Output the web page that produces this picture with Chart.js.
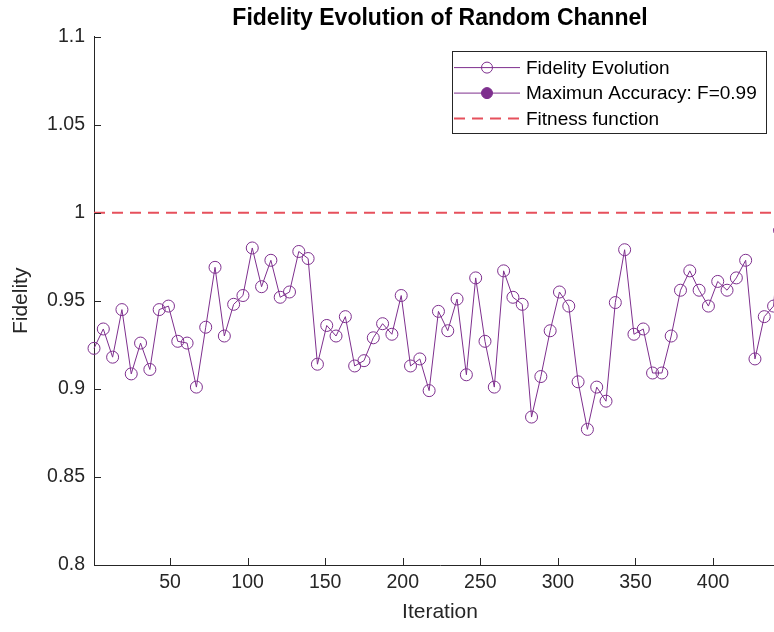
<!DOCTYPE html>
<html>
<head>
<meta charset="utf-8">
<script src="https://cdn.jsdelivr.net/npm/chart.js@4/dist/chart.umd.min.js"></script>
<style>
html,body{margin:0;padding:0;background:#ffffff;overflow:hidden;width:774px;height:632px}
#wrap{position:absolute;left:0;top:0;width:800px;height:632px}
</style>
</head>
<body>
<div id="wrap"><canvas id="c" width="800" height="632"></canvas></div>
<script>
// ---- data ----
const iterations = [1,7,13,19,25,31,37,43,49,55,61,67,73,79,85,91,97,103,109,115,121,127,133,139,145,151,157,163,169,175,181,187,193,199,205,211,217,223,229,235,241,247,253,259,265,271,277,283,289,295,301,307,313,319,325,331,337,343,349,355,361,367,373,379,385,391,397,403,409,415,421,427,433,439,443];
const fidelity = [0.923,0.934,0.918,0.945,0.9085,0.926,0.911,0.945,0.947,0.927,
                  0.926,0.901,0.935,0.969,0.930,0.948,0.953,0.980,0.958,0.973,
                  0.952,0.955,0.978,0.974,0.914,0.936,0.930,0.941,0.913,0.916,
                  0.929,0.937,0.931,0.953,0.913,0.917,0.899,0.944,0.933,0.951,
                  0.908,0.963,0.927,0.901,0.967,0.952,0.948,0.884,0.907,0.933,
                  0.955,0.947,0.904,0.877,0.901,0.893,0.949,0.979,0.931,0.934,
                  0.909,0.909,0.930,0.956,0.967,0.956,0.947,0.961,0.956,0.963,
                  0.973,0.917,0.941,0.947,0.990];
const maxIteration = [443];
const maxFidelity = [0.99];
const fitnessX = [1, 447];
const fitnessY = [1, 1];
const xTickValues = [50,100,150,200,250,300,350,400];
const yTickValues = [0.8,0.85,0.9,0.95,1,1.05,1.1];
const yTickLabels = ['0.8','0.85','0.9','0.95','1','1.05','1.1'];
const seriesLabels = ['Fidelity Evolution','Maximun Accuracy: F=0.99','Fitness function'];
const chartTitle = 'Fidelity Evolution of Random Channel';
const xTitle = 'Iteration';
const yTitle = 'Fidelity';

// ---- styles ----
const FONT = "'Liberation Sans', Arial, Helvetica, sans-serif";
const PURPLE = '#7E2F8E';
const RED = '#E6505C';
const AXIS = '#262626';

const innerTicks = {
  id: 'innerTicks',
  afterDraw(chart) {
    const {ctx, chartArea: a, scales: {x, y}} = chart;
    ctx.save();
    ctx.strokeStyle = AXIS;
    ctx.lineWidth = 1;
    ctx.beginPath();
    x.ticks.forEach(t => {
      const px = Math.round(x.getPixelForValue(t.value)) + 0.5;
      ctx.moveTo(px, a.bottom); ctx.lineTo(px, a.bottom - 7);
    });
    y.ticks.forEach(t => {
      const py = Math.round(y.getPixelForValue(t.value)) + 0.5;
      ctx.moveTo(a.left, py); ctx.lineTo(a.left + 7, py);
    });
    ctx.stroke();
    ctx.restore();
  }
};

const boxLegend = {
  id: 'boxLegend',
  afterDraw(chart, args, opts) {
    const {ctx, chartArea: a} = chart;
    const w = opts.width, h = opts.height;
    const left = a.right - opts.right - w;
    const top = a.top + opts.top;
    ctx.save();
    ctx.fillStyle = '#ffffff';
    ctx.fillRect(left, top, w, h);
    ctx.strokeStyle = AXIS;
    ctx.lineWidth = 1;
    ctx.strokeRect(Math.round(left) + 0.5, Math.round(top) + 0.5, w, h);
    chart.data.datasets.forEach((ds, i) => {
      const cy = top + opts.firstRow + i * opts.rowGap;
      const x0 = left + opts.lineStart, x1 = left + opts.lineEnd;
      ctx.save();
      ctx.strokeStyle = ds.borderColor;
      ctx.lineWidth = ds.borderWidth;
      ctx.setLineDash(ds.borderDash || []);
      ctx.beginPath();
      ctx.moveTo(x0, cy); ctx.lineTo(x1, cy);
      ctx.stroke();
      ctx.setLineDash([]);
      if (ds.pointRadius > 0) {
        ctx.beginPath();
        ctx.arc((x0 + x1) / 2, cy, ds.pointRadius - 0.5, 0, Math.PI * 2);
        ctx.fillStyle = ds.pointBackgroundColor;
        ctx.fill();
        ctx.lineWidth = ds.pointBorderWidth;
        ctx.strokeStyle = ds.pointBorderColor;
        ctx.stroke();
      }
      ctx.restore();
      ctx.fillStyle = '#000000';
      ctx.font = opts.fontSize + 'px ' + FONT;
      ctx.textBaseline = 'middle';
      ctx.textAlign = 'left';
      ctx.fillText(ds.label, left + opts.textStart, cy + 1);
    });
    ctx.restore();
  }
};

new Chart(document.getElementById('c'), {
  type: 'line',
  data: {
    datasets: [
      {
        label: seriesLabels[0],
        data: iterations.map((v, i) => ({x: v, y: fidelity[i]})),
        borderColor: PURPLE, borderWidth: 1,
        pointRadius: 6, pointBorderWidth: 1,
        pointBorderColor: PURPLE, pointBackgroundColor: 'rgba(0,0,0,0)',
        tension: 0, clip: false
      },
      {
        label: seriesLabels[1],
        data: maxIteration.map((v, i) => ({x: v, y: maxFidelity[i]})),
        borderColor: PURPLE, borderWidth: 1,
        pointRadius: 6, pointBorderWidth: 1,
        pointBorderColor: PURPLE, pointBackgroundColor: PURPLE,
        clip: false
      },
      {
        label: seriesLabels[2],
        data: fitnessX.map((v, i) => ({x: v, y: fitnessY[i]})),
        borderColor: RED, borderWidth: 2, borderDash: [11, 7],
        pointRadius: 0, pointBorderWidth: 0,
        pointBorderColor: RED, pointBackgroundColor: RED
      }
    ]
  },
  options: {
    responsive: false,
    animation: false,
    devicePixelRatio: 1,
    layout: {padding: {left: 0, right: 14, top: 0, bottom: 0}},
    plugins: {
      legend: {display: false},
      tooltip: {enabled: false},
      title: {
        display: true, text: chartTitle, fullSize: false,
        color: '#000000',
        font: {family: FONT, size: 23, weight: 'bold'},
        padding: {top: 5, bottom: 4}
      },
      boxLegend: {
        width: 314, height: 82, right: 20, top: 14,
        firstRow: 17, rowGap: 25.5,
        lineStart: 2, lineEnd: 68, textStart: 74, fontSize: 19
      }
    },
    scales: {
      x: {
        type: 'linear', min: 1, max: 447,
        afterBuildTicks: s => { s.ticks = xTickValues.map(v => ({value: v})); },
        afterFit: s => { s.height = 67; },
        grid: {display: false, drawTicks: false},
        border: {display: true, color: AXIS, width: 1},
        ticks: {padding: 6, color: AXIS, font: {family: FONT, size: 19.5},
                maxRotation: 0, autoSkip: false, callback: v => String(v)},
        title: {display: true, text: xTitle, color: AXIS,
                font: {family: FONT, size: 21}, padding: {top: 4, bottom: 7}}
      },
      y: {
        type: 'linear', min: 0.8, max: 1.1,
        afterBuildTicks: s => { s.ticks = yTickValues.map(v => ({value: v})); },
        afterFit: s => { s.width = 94; },
        grid: {display: false, drawTicks: false},
        border: {display: true, color: AXIS, width: 1},
        ticks: {padding: 9, color: AXIS, font: {family: FONT, size: 19.5},
                autoSkip: false, callback: (v, i) => yTickLabels[i]},
        title: {display: true, text: yTitle, color: AXIS,
                font: {family: FONT, size: 21}, padding: {top: 9, bottom: 0}}
      }
    }
  },
  plugins: [innerTicks, boxLegend]
});
</script>
</body>
</html>
